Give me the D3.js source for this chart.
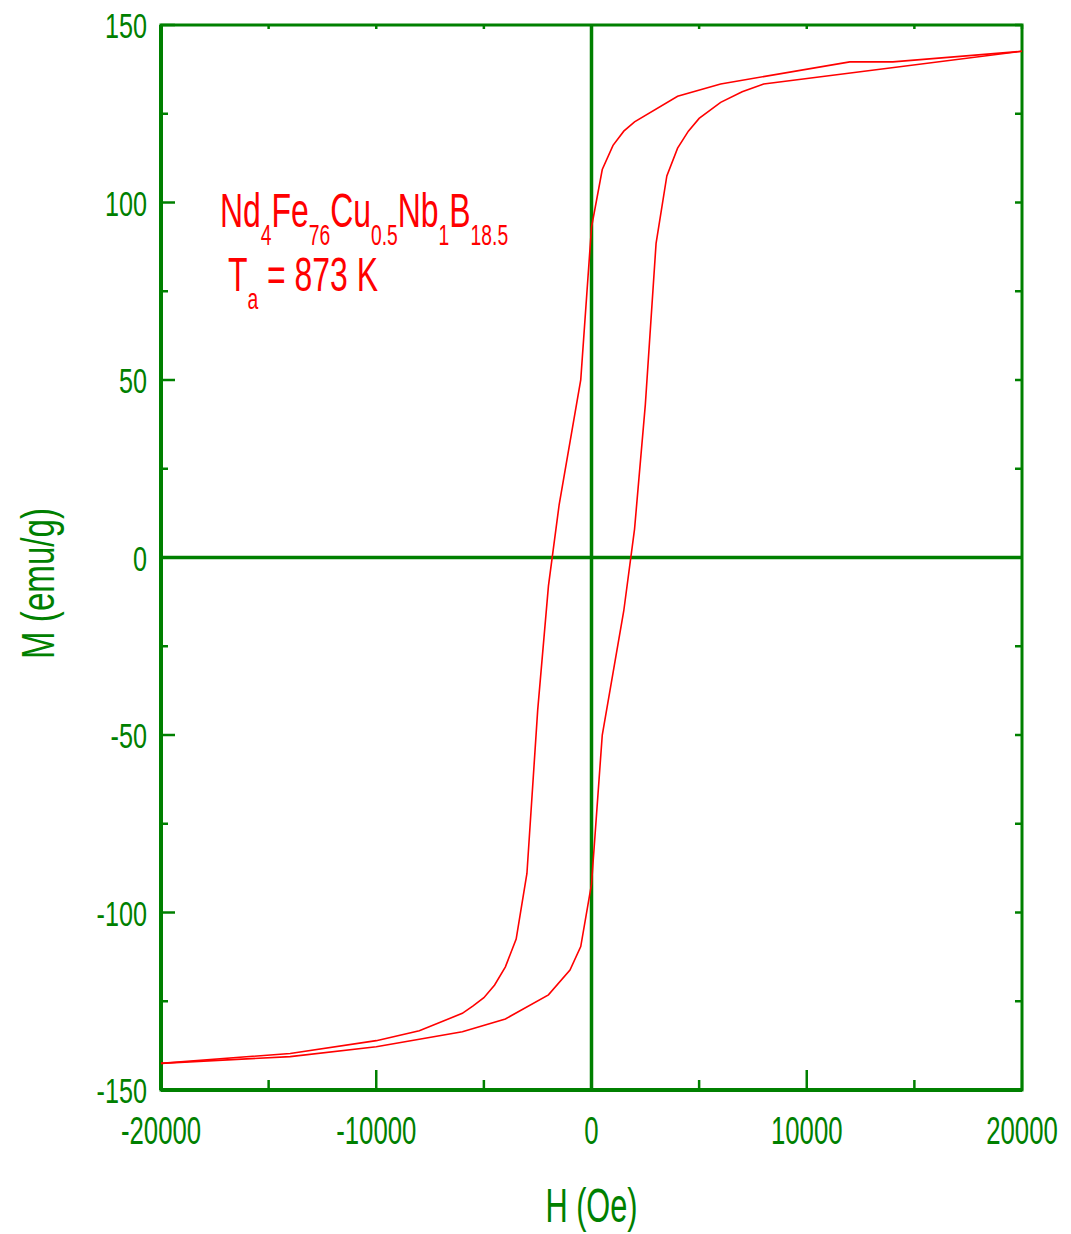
<!DOCTYPE html>
<html>
<head>
<meta charset="utf-8">
<script src="https://cdn.jsdelivr.net/npm/d3@7"></script>
<style>
  body { margin: 0; background: #fff; }
  text { font-family: "Liberation Sans", Arial, sans-serif; }
</style>
</head>
<body>
<div id="chart"></div>
<script>
// axis ticks
const xTicks = [-20000, -10000, 0, 10000, 20000];
const xMinorTicks = [-15000, -5000, 5000, 15000];
const yTicks = [-150, -100, -50, 0, 50, 100, 150];
const yMinorTicks = [-125, -75, -25, 25, 75, 125];

// descending branch (from +20 kOe down to -20 kOe)
const descH = [20000, 14000, 12000, 6000, 4000, 2000, 1500, 1000, 500, 0, -500, -1500, -2000, -2500, -3000, -3500, -4000, -4500, -5000, -5500, -6000, -8000, -10000, -14000, -20000];
const descM = [142.6, 139.6, 139.6, 133.4, 129.9, 122.7, 120.1, 116.1, 109.3, 93, 50, 15, -8, -43, -89, -107.5, -115.3, -120.4, -124, -126.3, -128.4, -133.3, -136.1, -139.7, -142.5];

// ascending branch (from -20 kOe up to +20 kOe)
const ascH = [-20000, -14000, -10000, -8000, -6000, -4000, -2000, -1000, -500, 0, 500, 1500, 2000, 2500, 3000, 3500, 4000, 4500, 5000, 6000, 7000, 8000, 20000];
const ascM = [-142.5, -140.6, -137.8, -135.7, -133.6, -130, -123.2, -116.2, -109.6, -92, -50, -15, 8, 43, 88.5, 107.5, 115.3, 120.1, 123.7, 128.2, 131.2, 133.4, 142.6];

const width = 1071, height = 1234;
const margin = { left: 161, right: 49, top: 25, bottom: 144 };
const green = '#008000';
const red = '#ff0000';

const svg = d3.select('#chart').append('svg')
  .attr('width', width)
  .attr('height', height);

const x = d3.scaleLinear().domain([-20000, 20000]).range([margin.left, width - margin.right]);
const y = d3.scaleLinear().domain([-150, 150]).range([height - margin.bottom, margin.top]);

const x0 = x.range()[0], x1 = x.range()[1];
const y0 = y.range()[1], y1 = y.range()[0];

// tick marks
function tickLines(data, fn) {
  svg.append('g').selectAll('line').data(data).enter().append('line')
    .each(function (d) {
      const c = fn(d);
      d3.select(this).attr('x1', c[0]).attr('y1', c[1]).attr('x2', c[2]).attr('y2', c[3]);
    })
    .attr('stroke', green).attr('stroke-width', 2.5);
}
tickLines(yTicks, d => [x0, y(d), x0 + 14, y(d)]);
tickLines(yMinorTicks, d => [x0, y(d), x0 + 7, y(d)]);
tickLines(yTicks.concat(yMinorTicks), d => [x1, y(d), x1 - 7, y(d)]);
tickLines(xTicks, d => [x(d), y1, x(d), y1 - 20]);
tickLines(xMinorTicks, d => [x(d), y1, x(d), y1 - 10]);
tickLines(xTicks.concat(xMinorTicks), d => [x(d), y0, x(d), y0 + 4]);

// frame
svg.append('rect')
  .attr('x', x0).attr('y', y0)
  .attr('width', x1 - x0).attr('height', y1 - y0)
  .attr('fill', 'none').attr('stroke', green).attr('stroke-width', 3);
svg.append('line').attr('x1', x0).attr('x2', x0).attr('y1', y0).attr('y2', y1)
  .attr('stroke', green).attr('stroke-width', 4);
svg.append('line').attr('x1', x0).attr('x2', x1).attr('y1', y1).attr('y2', y1)
  .attr('stroke', green).attr('stroke-width', 4);

// zero lines
svg.append('line').attr('x1', x0).attr('x2', x1).attr('y1', y(0)).attr('y2', y(0))
  .attr('stroke', green).attr('stroke-width', 3.5);
svg.append('line').attr('x1', x(0)).attr('x2', x(0)).attr('y1', y0).attr('y2', y1)
  .attr('stroke', green).attr('stroke-width', 3.5);

// tick labels (narrow font look)
svg.append('g').selectAll('text').data(yTicks).enter().append('text')
  .attr('transform', d => `translate(${x0 - 14},${y(d) + 13}) scale(0.7,1)`)
  .attr('text-anchor', 'end')
  .attr('font-size', 36)
  .attr('fill', green)
  .text(d => d);

svg.append('g').selectAll('text').data(xTicks).enter().append('text')
  .attr('transform', d => `translate(${x(d)},${y1 + 54}) scale(0.66,1)`)
  .attr('text-anchor', 'middle')
  .attr('font-size', 39)
  .attr('fill', green)
  .text(d => d);

// axis titles
svg.append('text')
  .attr('transform', `translate(${x(0)},${y1 + 132}) scale(0.64,1)`)
  .attr('text-anchor', 'middle')
  .attr('font-size', 48)
  .attr('fill', green)
  .text('H (Oe)');

svg.append('text')
  .attr('transform', `translate(54,${y(0) + 26}) rotate(-90) scale(0.72,1)`)
  .attr('text-anchor', 'middle')
  .attr('font-size', 46)
  .attr('fill', green)
  .text('M (emu/g)');

// loop
const line = d3.line().x(d => x(d[0])).y(d => y(d[1]));
const desc = descH.map((h, i) => [h, descM[i]]);
const asc = ascH.map((h, i) => [h, ascM[i]]);
[desc, asc].forEach(pts => {
  svg.append('path')
    .datum(pts)
    .attr('d', line)
    .attr('fill', 'none')
    .attr('stroke', red)
    .attr('stroke-width', 1.6);
});

// composition label
const formula = [['Nd', '4'], ['Fe', '76'], ['Cu', '0.5'], ['Nb', '1'], ['B', '18.5']];
const t1 = svg.append('text')
  .attr('transform', 'translate(220,227) scale(0.665,1)')
  .attr('font-size', 48)
  .attr('fill', red);
formula.forEach(([el, sub], i) => {
  t1.append('tspan').attr('dy', i === 0 ? 0 : -18).text(el);
  t1.append('tspan').attr('font-size', 29).attr('dy', 18).text(sub);
});

const t2 = svg.append('text')
  .attr('transform', 'translate(228,291) scale(0.665,1)')
  .attr('font-size', 48)
  .attr('fill', red);
t2.append('tspan').text('T');
t2.append('tspan').attr('font-size', 29).attr('dy', 18).text('a');
t2.append('tspan').attr('dy', -18).text(' = 873 K');
</script>
</body>
</html>
